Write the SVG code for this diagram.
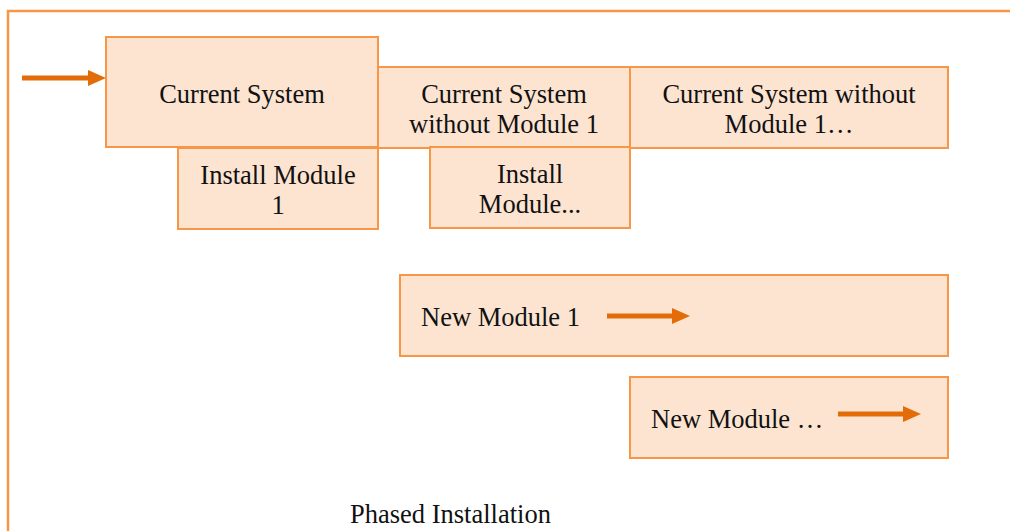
<svg xmlns="http://www.w3.org/2000/svg" width="1010" height="531" viewBox="0 0 1010 531">
<style>
.box{fill:#FCE4D1;stroke:#F79646;stroke-width:2}
.t{font-family:"Liberation Serif","Times New Roman",serif;font-size:26.5px;fill:#111}
.c{text-anchor:middle}
.arr{stroke:#E36C09;stroke-width:5;fill:none}
.head{fill:#E36C09}
</style>
<rect x="0" y="0" width="1010" height="531" fill="#fff"/>
<path d="M8,531 V11 H1010" fill="none" stroke="#F79646" stroke-width="2.5"/>
<g id="current-system"><rect class="box" x="106" y="37" width="272" height="110"/><text class="t c" x="242" y="103">Current System</text></g>
<g id="install-module-1"><rect class="box" x="178" y="148" width="200" height="81"/><text class="t c" x="278" y="184">Install Module</text><text class="t c" x="278" y="214">1</text></g>
<g id="current-without-1"><rect class="box" x="378" y="67" width="252" height="81"/><text class="t c" x="504" y="103">Current System</text><text class="t c" x="504" y="133">without Module 1</text></g>
<g id="current-without-n"><rect class="box" x="630" y="67" width="318" height="81"/><text class="t c" x="789" y="103">Current System without</text><text class="t c" x="789" y="133">Module 1…</text></g>
<g id="install-module-n"><rect class="box" x="430" y="147" width="200" height="81"/><text class="t c" x="530" y="183">Install</text><text class="t c" x="530" y="213">Module...</text></g>
<g id="new-module-1"><rect class="box" x="400" y="275" width="548" height="81"/><text class="t" x="421" y="326">New Module 1</text></g>
<g id="new-module-n"><rect class="box" x="630" y="377" width="318" height="81"/><text class="t" x="651" y="428">New Module …</text></g>
<g id="connectors">
<line class="arr" x1="22" y1="78" x2="89" y2="78"/><polygon class="head" points="88,70 106,78 88,86"/>
<line class="arr" x1="607" y1="316" x2="673" y2="316"/><polygon class="head" points="672,308 690,316 672,324"/>
<line class="arr" x1="838" y1="414" x2="904" y2="414"/><polygon class="head" points="903,406 921,414 903,422"/>
</g>
<text class="t" x="350" y="523">Phased Installation</text>
</svg>
